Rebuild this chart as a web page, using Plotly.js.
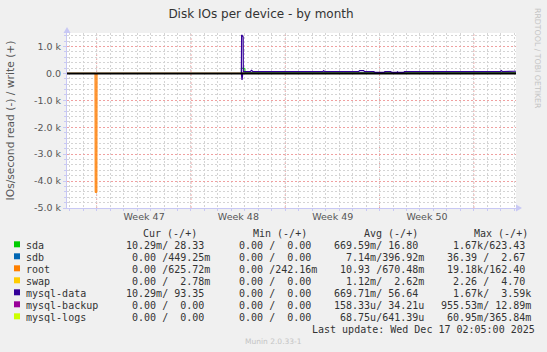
<!DOCTYPE html>
<html><head><meta charset="utf-8">
<script src="https://cdn.plot.ly/plotly-3.0.1.min.js"></script>
<style>html,body{margin:0;padding:0;background:#f0f0f0;overflow:hidden}</style>
</head><body><div id="chart" style="width:547px;height:352px"></div>
<script>
// ---------------- data ----------------
const devices = ['sda', 'sdb', 'root', 'swap', 'mysql-data', 'mysql-backup', 'mysql-logs'];
const colors = ['#00CC00', '#0066B3', '#FF8000', '#FFCC00', '#330099', '#990099', '#CCFF00'];

const weekTickDates = ['2025-11-19 12:30', '2025-11-26 12:30', '2025-12-03 12:30', '2025-12-10 12:30'];
const weekLabels = ['Week 47', 'Week 48', 'Week 49', 'Week 50'];
const weekStarts = ['2025-11-16', '2025-11-23', '2025-11-30', '2025-12-07', '2025-12-14'];
const yTickVals = [-5000, -4000, -3000, -2000, -1000, 0, 1000];
const yTickText = ['-5.0 k', '-4.0 k', '-3.0 k', '-2.0 k', '-1.0 k', '0.0', '1.0 k'];

// flat series (≈0 over the month)
const fullT = ['2025-11-13 19:00', '2025-12-17 03:10'];
const fullZero = [0, 0];
const activeT = ['2025-11-26 17:45', '2025-12-17 03:10'];
const activeZero = [0, 0];

// root read (-)
const rootReadT = ['2025-11-13 19:00', '2025-11-15 21:00', '2025-11-15 21:20', '2025-11-16 00:20', '2025-11-16 00:40', '2025-12-17 03:10'];
const rootReadV = [0, 0, -4420, -4420, 0, 0];

// sda write (+)
const sdaWriteT = ['2025-11-26 17:45', '2025-11-26 18:00', '2025-11-27 00:00', '2025-11-27 00:20', '2025-12-04 05:00', '2025-12-04 06:20', '2025-12-04 07:40', '2025-12-17 03:10'];
const sdaWriteV = [0, 190, 190, 18, 18, 45, 18, 20];

// mysql-data read (-)
const mysqlDataReadT = ['2025-11-26 17:45', '2025-11-26 19:00', '2025-11-26 20:15', '2025-12-17 03:10'];
const mysqlDataReadV = [0, -240, 0, 0];

// mysql-data write (+)
const mysqlDataWriteT = [
  '2025-11-26 17:45', '2025-11-26 18:15', '2025-11-26 19:30', '2025-11-26 21:00', '2025-11-26 21:15',
  '2025-11-27 10:00', '2025-11-27 12:00', '2025-11-27 14:00',
  '2025-11-29 14:00', '2025-11-29 16:00', '2025-11-29 18:00',
  '2025-12-02 19:00', '2025-12-02 20:30', '2025-12-02 22:00',
  '2025-12-05 11:00', '2025-12-05 12:30', '2025-12-05 19:30', '2025-12-05 21:00',
  '2025-12-06 14:00', '2025-12-06 15:30', '2025-12-07 08:00', '2025-12-07 09:30',
  '2025-12-07 20:00', '2025-12-07 21:30', '2025-12-08 06:30', '2025-12-08 08:00', '2025-12-08 09:30',
  '2025-12-08 19:00', '2025-12-08 20:30',
  '2025-12-14 01:30', '2025-12-14 03:00', '2025-12-14 04:30',
  '2025-12-15 23:30', '2025-12-16 01:00', '2025-12-16 02:30',
  '2025-12-17 03:10'];
const mysqlDataWriteV = [
  0, 1430, 1400, 1350, 70,
  70, 115, 70,
  70, 50, 70,
  70, 95, 70,
  70, 105, 105, 70,
  70, 35, 35, 70,
  70, 35, 35, 60, 35,
  35, 70,
  70, 50, 70,
  70, 105, 70,
  80];

// legend statistics (read / write)
const curStats = [['10.29m', '28.33'], ['0.00', '449.25m'], ['0.00', '625.72m'], ['0.00', '2.78m'], ['10.29m', '93.35'], ['0.00', '0.00'], ['0.00', '0.00']];
const minStats = [['0.00', '0.00'], ['0.00', '0.00'], ['0.00', '242.16m'], ['0.00', '0.00'], ['0.00', '0.00'], ['0.00', '0.00'], ['0.00', '0.00']];
const avgStats = [['669.59m', '16.80'], ['7.14m', '396.92m'], ['10.93', '670.48m'], ['1.12m', '2.62m'], ['669.71m', '56.64'], ['158.33u', '34.21u'], ['68.75u', '641.39u']];
const maxStats = [['1.67k', '623.43'], ['36.39', '2.67'], ['19.18k', '162.40'], ['2.26', '4.70'], ['1.67k', '3.59k'], ['955.53m', '12.89m'], ['60.95m', '365.84m']];
const colHeaders = ['Cur (-/+)', 'Min (-/+)', 'Avg (-/+)', 'Max (-/+)'];
const lastUpdate = 'Last update: Wed Dec 17 02:05:00 2025';

// ---------------- layout helpers ----------------
const W = 547, H = 352;
const PL = 67, PR = 516, PT = 33, PB = 208;
const fx = x => (x - PL) / (PR - PL);
const fy = y => (PB - y) / (PB - PT);
const NB = s => s.replace(/ /g, '\u00A0');
function fmt(s) {
  const hasUnit = /[a-z]$/i.test(s);
  const u = hasUnit ? s.slice(-1) : ' ';
  const n = hasUnit ? s.slice(0, -1) : s;
  return n.padStart(6, ' ') + u;
}
const cell = p => NB(fmt(p[0]) + '/' + fmt(p[1]));

// ---------------- traces ----------------
function line(x, y, color, w, extra) {
  return Object.assign({x: x, y: y, type: 'scatter', mode: 'lines', line: {color: color, width: w || 1, shape: 'linear'},
    hoverinfo: 'skip', showlegend: false}, extra || {});
}
const C = {};
devices.forEach((d, i) => C[d] = colors[i]);
const traces = [
  line(activeT, activeZero, C['sda'], 0.6),           // sda read
  line(activeT, activeZero, C['sdb'], 0.6),           // sdb read
  line(activeT, activeZero, C['sdb'], 0.6),           // sdb write
  line(fullT, fullZero, C['root'], 0.6),              // root write
  line(fullT, fullZero, C['swap'], 0.6),              // swap read
  line(fullT, fullZero, C['swap'], 0.6),              // swap write
  line(activeT, activeZero, C['mysql-backup'], 0.6),
  line(activeT, activeZero, C['mysql-backup'], 0.6),
  line(activeT, activeZero, C['mysql-logs'], 0.6),
  line(activeT, activeZero, C['mysql-logs'], 0.6),
  line(sdaWriteT, sdaWriteV, C['sda']),               // sda write
  line(rootReadT, rootReadV, C['root'], 1, {fill: 'tozeroy', fillcolor: 'rgba(255,150,60,0.75)'}), // root read
  line(mysqlDataReadT, mysqlDataReadV, C['mysql-data'], 1.2),
  line(mysqlDataWriteT, mysqlDataWriteV, C['mysql-data'], 1.2)
];

// ---------------- annotations / shapes ----------------
const monoFont = {family: 'DejaVu Sans Mono', size: 10, color: '#333'};
const ann = [];
const shapes = [];
function txt(x, y, text, font, extra) {
  ann.push(Object.assign({xref: 'paper', yref: 'paper', x: fx(x), y: fy(y), text: text, showarrow: false,
    xanchor: 'left', yanchor: 'middle', font: font, borderpad: 0, borderwidth: 0}, extra || {}));
}
const headerX = [142.7, 253.3, 364, 473.7];
const colX = [120, 227.3, 334, 441.3];
colHeaders.forEach((h, i) => txt(headerX[i], 233.3, NB(h), monoFont));
const stats = [curStats, minStats, avgStats, maxStats];
devices.forEach((d, r) => {
  const yy = 245.3 + 12 * r;
  shapes.push({type: 'rect', xref: 'paper', yref: 'paper', x0: fx(14), x1: fx(20), y0: fy(yy + 2), y1: fy(yy - 4),
    fillcolor: colors[r], line: {width: 0}, layer: 'above'});
  txt(26, yy, d, monoFont);
  stats.forEach((st, c) => txt(colX[c], yy, cell(st[r]), monoFont));
});
txt(311.7, 329.3, NB(lastUpdate), monoFont);
txt(273.5, 341, 'Munin 2.0.33-1', {family: 'DejaVu Sans', size: 7.5, color: '#c4c4c4'}, {xanchor: 'center'});
txt(538, 58, 'RRDTOOL / TOBI OETIKER', {family: 'DejaVu Sans', size: 7.8, color: '#c4c4c4'}, {xanchor: 'center', textangle: 90});

// week separator lines (major vertical grid)
weekStarts.forEach(d => shapes.push({type: 'line', xref: 'x', yref: 'paper', x0: d, x1: d, y0: 0, y1: 1,
  line: {color: '#f0a0a0', width: 1, dash: '2px,2px'}, layer: 'below'}));
// zero line
shapes.push({type: 'line', xref: 'paper', yref: 'y', x0: 0, x1: 1, y0: 0, y1: 0, line: {color: '#000', width: 2}, layer: 'above'});
// axis arrows
const arrowCol = '#c8c8f4';
function pathPx(pts) {
  return 'M' + pts.map(p => fx(p[0]) + ',' + fy(p[1])).join(' L') + ' Z';
}
shapes.push({type: 'path', xref: 'paper', yref: 'paper', path: pathPx([[63.5, 33], [70.5, 33], [67, 27]]), fillcolor: arrowCol, line: {width: 0}, layer: 'above'});
shapes.push({type: 'path', xref: 'paper', yref: 'paper', path: pathPx([[516, 204.5], [516, 211.5], [522, 208]]), fillcolor: arrowCol, line: {width: 0}, layer: 'above'});

const axFont = {family: 'DejaVu Sans', size: 9.5, color: '#555'};
const layout = {
  width: W, height: H,
  margin: {l: PL, r: W - PR, t: PT, b: H - PB, pad: 0},
  paper_bgcolor: '#f0f0f0', plot_bgcolor: '#ffffff',
  font: {family: 'DejaVu Sans', color: '#333'},
  showlegend: false,
  title: {text: 'Disk IOs per device - by month', x: 261 / W, xref: 'container', xanchor: 'center',
    y: 1 - 14 / H, yref: 'container', yanchor: 'middle', font: {family: 'DejaVu Sans', size: 12, color: '#333'}},
  xaxis: {
    type: 'date', range: ['2025-11-13 19:08', '2025-12-17 03:06'], fixedrange: true,
    tickmode: 'array', tickvals: weekTickDates, ticktext: weekLabels, ticks: '', showgrid: false,
    tickfont: axFont, zeroline: false, showline: true, linecolor: arrowCol, linewidth: 1,
    minor: {dtick: 86400000, tick0: '2025-11-16', showgrid: true, gridcolor: '#d4d4d4', griddash: '2px,2px', gridwidth: 1,
      ticks: 'outside', ticklen: 2, tickcolor: arrowCol}
  },
  yaxis: {
    range: [-5000, 1500], fixedrange: true,
    tickmode: 'array', tickvals: yTickVals, ticktext: yTickText,
    ticks: 'outside', ticklen: 3, tickcolor: arrowCol, tickfont: axFont,
    showgrid: true, gridcolor: '#f0a0a0', griddash: '2px,2px', gridwidth: 1, zeroline: false,
    showline: true, linecolor: arrowCol, linewidth: 1,
    minor: {dtick: 200, showgrid: true, gridcolor: '#d4d4d4', griddash: '2px,2px', gridwidth: 1, ticks: 'outside', ticklen: 2, tickcolor: arrowCol},
    title: {text: 'IOs/second read (-) / write (+)', standoff: 17, font: {family: 'DejaVu Sans', size: 10.7, color: '#555'}}
  },
  annotations: ann,
  shapes: shapes
};
Plotly.newPlot('chart', traces, layout, {staticPlot: true, displayModeBar: false});
</script></body></html>
